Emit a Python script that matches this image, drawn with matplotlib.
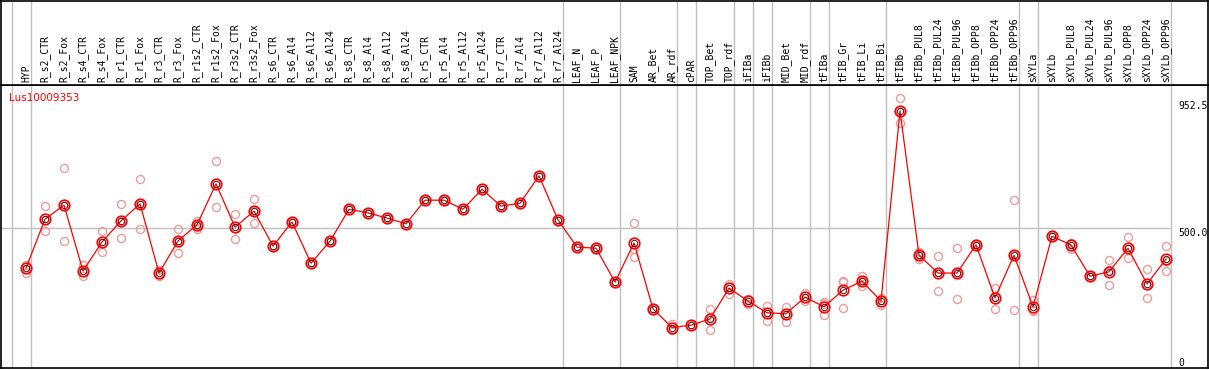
import matplotlib
matplotlib.use("Agg")
import numpy as np
import matplotlib.pyplot as plt
import matplotlib.transforms as mtransforms

# sample labels (left to right)
samples = ["HYP", "R_s2_CTR", "R_s2_Fox", "R_s4_CTR", "R_s4_Fox", "R_r1_CTR", "R_r1_Fox",
           "R_r3_CTR", "R_r3_Fox", "R_r1s2_CTR", "R_r1s2_Fox", "R_r3s2_CTR", "R_r3s2_Fox",
           "R_s6_CTR", "R_s6_Al4", "R_s6_Al12", "R_s6_Al24", "R_s8_CTR", "R_s8_Al4",
           "R_s8_Al12", "R_s8_Al24", "R_r5_CTR", "R_r5_Al4", "R_r5_Al12", "R_r5_Al24",
           "R_r7_CTR", "R_r7_Al4", "R_r7_Al12", "R_r7_Al24", "LEAF_N", "LEAF_P", "LEAF_NPK",
           "SAM", "AR_Bet", "AR_rdf", "cPAR", "TOP_Bet", "TOP_rdf", "iFIBa", "iFIBb",
           "MID_Bet", "MID_rdf", "tFIBa", "tFIB_Gr", "tFIB_Li", "tFIB_Bi", "tFIBb",
           "tFIBb_PUL8", "tFIBb_PUL24", "tFIBb_PUL96", "tFIBb_OPP8", "tFIBb_OPP24",
           "tFIBb_OPP96", "sXYLa", "sXYLb", "sXYLb_PUL8", "sXYLb_PUL24", "sXYLb_PUL96",
           "sXYLb_OPP8", "sXYLb_OPP24", "sXYLb_OPP96"]

# mean expression
mean_val = [346, 535, 589, 335, 447, 528, 594, 327, 451, 513, 671, 504, 566,
            431, 524, 365, 450, 573, 559, 539, 517, 608, 608, 573, 650,
            585, 596, 702, 532, 427, 423, 292, 443, 189, 117, 126, 150, 269,
            219, 174, 170, 234, 197, 261, 296, 219, 952.5, 396, 327, 327,
            436, 231, 396, 197, 469, 435, 315, 332, 423, 285, 381]

# replicates
rep_a = [358, 585, 731, 358, 490, 594, 689, 339, 497, 528, 758, 555, 612,
         431, 524, 365, 450, 573, 559, 539, 517, 608, 608, 573, 650,
         585, 596, 702, 532, 427, 423, 292, 519, 189, 130, 126, 188, 285,
         226, 201, 197, 252, 216, 298, 315, 229, 1001, 409, 392, 423,
         440, 269, 608, 224, 473, 443, 315, 377, 465, 343, 432]
rep_b = [342, 488, 450, 316, 408, 461, 497, 316, 404, 497, 581, 458, 519,
         431, 524, 365, 450, 573, 559, 539, 517, 608, 608, 573, 650,
         585, 596, 702, 532, 427, 423, 292, 421, 189, 109, 126, 107, 247,
         223, 143, 140, 221, 167, 292, 278, 203, 907, 383, 257, 227,
         435, 188, 185, 184, 468, 420, 315, 280, 384, 231, 335]
rep_c = [329, 531, 585, 332, 444, 529, 595, 324, 452, 513, 673, 499, 565,
         431, 524, 365, 450, 573, 559, 539, 517, 608, 608, 573, 650,
         585, 596, 702, 532, 427, 423, 292, 387, 189, 111, 126, 156, 274,
         207, 177, 172, 229, 207, 193, 295, 224, 949, 396, 330, 329,
         432, 237, 395, 182, 466, 440, 315, 338, 419, 282, 374]

# last sample index of each group (-1 = boundary before the first one)
group_ends = [-1, 0, 28, 31, 34, 35, 37, 38, 39, 41, 42, 45, 52, 53, 60]

gene = "Lus10009353"
y_ticks = [0, 500.0, 952.5]

W, H = 1209, 370
fig = plt.figure(figsize=(W / 100, H / 100), dpi=100)

x = np.arange(len(samples))
xlim = (-1.316, 62.21)
grid_c = "#c0c0c0"
mono = "DejaVu Sans Mono"

# plot area (pixels 85..368 from top)
ax = fig.add_axes([1 / W, 2 / H, 1207 / W, 283 / H])
ax.set_xlim(*xlim)
ax.set_ylim(-39, 1052)
ax.set_xticks([])
ax.set_yticks([])
for s in ax.spines.values():
    s.set_color("black")
    s.set_linewidth(1.2)

# label strip on top
axl = fig.add_axes([1 / W, 285 / H, 1207 / W, 84.5 / H])
axl.set_xlim(*xlim)
axl.set_ylim(0, 1)
axl.set_xticks([])
axl.set_yticks([])
for s in axl.spines.values():
    s.set_color("black")
    s.set_linewidth(1.2)

for g in group_ends:
    ax.axvline(g + 0.24, color=grid_c, lw=1, zorder=0)
    axl.axvline(g + 0.24, color=grid_c, lw=1, zorder=0)

ax.hlines(500, xlim[0], group_ends[-1] + 0.24, color=grid_c, lw=1, zorder=0)

for i, name in enumerate(samples):
    axl.text(i, 0.03, name, rotation=90, ha="center", va="bottom",
             fontsize=7, family=mono, color="black")

# replicates, then mean line
for reps in (rep_a, rep_b, rep_c):
    ax.plot(x, reps, ls="none", marker="o", ms=5.8, mfc="none",
            mec="#ec9c9c", mew=1.0, zorder=2)
ax.plot(x, mean_val, color="red", lw=0.9, zorder=3)
ax.plot(x, mean_val, ls="none", marker="o", ms=7.6, mfc="none",
        mec="red", mew=1.2, zorder=4)
ax.plot(x, mean_val, ls="none", marker="o", ms=4.6, mfc="none",
        mec="#200000", mew=0.6, zorder=5)

ax.text(8 / 1207, 0.972, gene, transform=ax.transAxes, color="red",
        fontsize=7.5, family="DejaVu Sans", ha="left", va="top")

trans = mtransforms.blended_transform_factory(ax.transAxes, ax.transData)
for v in y_ticks:
    lab = "0" if v == 0 else f"{v:.1f}"
    ax.text(1177 / 1207, v, lab, transform=trans, fontsize=7, family=mono,
            ha="left", va="bottom" if v == max(y_ticks) else "top")

fig.savefig("out.png", dpi=100)
